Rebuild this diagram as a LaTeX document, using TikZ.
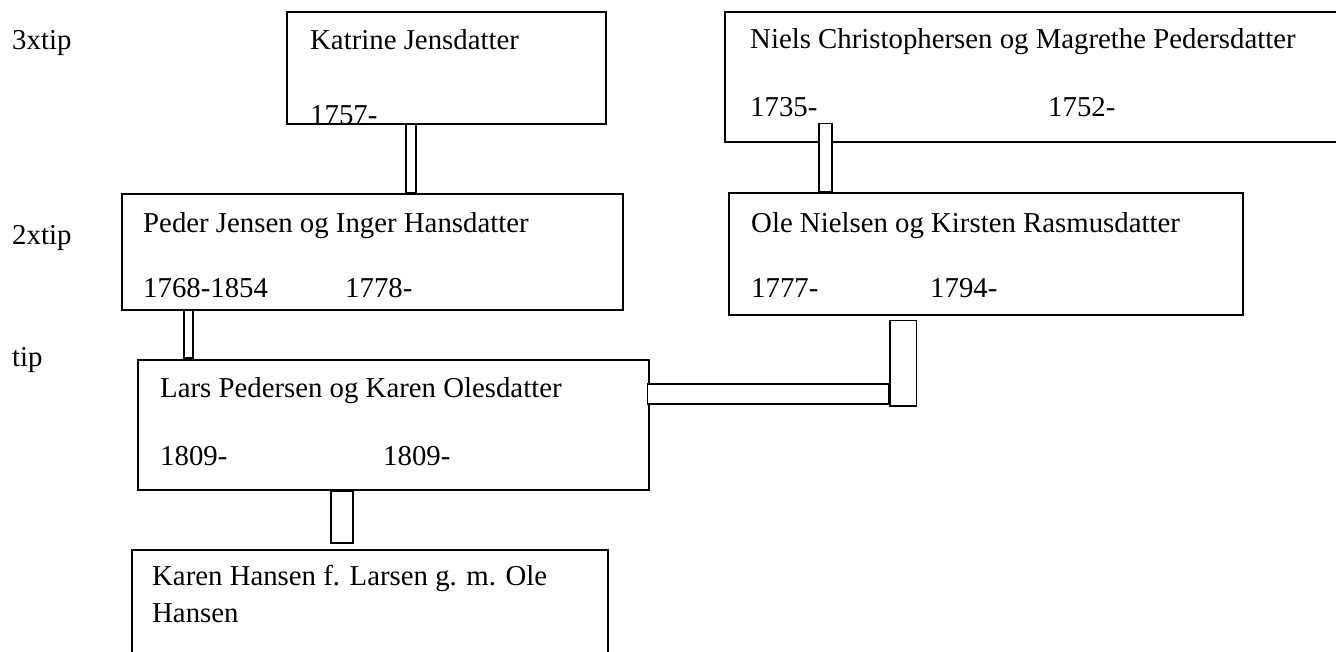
\documentclass[tikz,border=0pt]{standalone}
\usepackage{fontspec}
\setmainfont{Liberation Serif}
\usetikzlibrary{positioning, calc}

\begin{document}
\begin{tikzpicture}[
                x=1pt, y=-1pt,
                every node/.style={font=\fontsize{28.8}{34}\selectfont},
                person/.style={rectangle, draw, line width=1.6pt, anchor=north west, inner sep=0pt},
                txt/.style={anchor=base west, inner sep=0pt},
                link/.style={draw, line width=1.3pt, fill=white}
            ]
                \clip (0,0) rectangle (1336,651);

                % Generations
                \node[txt] (g3) at (12,49) {3xtip};
                \node[txt] (g2) at (12,244) {2xtip};
                \node[txt] (g1) at (12,366) {tip};

                % Persons
                \node[person, minimum width=319pt, minimum height=112pt] (katrine) at (286,11) {};
                \node[txt] (katrine-name) at ([shift={(24,38)}]katrine.north west) {Katrine Jensdatter};
                \node[txt] (katrine-born) at ([shift={(24,113)}]katrine.north west) {1757-};

                \node[person, minimum width=640pt, minimum height=130pt] (niels) at (724,11) {};
                \node[txt] (niels-name) at ([shift={(26,37)}]niels.north west) {Niels Christophersen og Magrethe Pedersdatter};
                \node[txt] (niels-born) at ([shift={(26,105)}]niels.north west) {1735-};
                \node[txt] (magrethe-born) at ([shift={(324,105)}]niels.north west) {1752-};

                \node[person, minimum width=501pt, minimum height=116pt] (peder) at (121,193) {};
                \node[txt] (peder-name) at ([shift={(22,39)}]peder.north west) {Peder Jensen og Inger Hansdatter};
                \node[txt] (peder-born) at ([shift={(22,104)}]peder.north west) {1768-1854};
                \node[txt] (inger-born) at ([shift={(224,104)}]peder.north west) {1778-};

                \node[person, minimum width=514pt, minimum height=122pt] (ole) at (728,192) {};
                \node[txt] (ole-name) at ([shift={(23,40)}]ole.north west) {Ole Nielsen og Kirsten Rasmusdatter};
                \node[txt] (ole-born) at ([shift={(23,105)}]ole.north west) {1777-};
                \node[txt] (kirsten-born) at ([shift={(202,105)}]ole.north west) {1794-};

                \node[person, minimum width=511pt, minimum height=130pt] (lars) at (137,359) {};
                \node[txt] (lars-name) at ([shift={(23,38)}]lars.north west) {Lars Pedersen og Karen Olesdatter};
                \node[txt] (lars-born) at ([shift={(23,106)}]lars.north west) {1809-};
                \node[txt] (karen-o-born) at ([shift={(246,106)}]lars.north west) {1809-};

                \node[person, minimum width=476pt, minimum height=130pt] (karen) at (131,549) {};
                \node[txt] (karen-name) at ([shift={(21,36)}]karen.north west) {Karen Hansen f. Larsen g. m. Ole};
                \node[txt] (karen-name2) at ([shift={(21,73)}]karen.north west) {Hansen};

                % Links
                \draw[link] ($(katrine.south west)+(120,0)$) rectangle ($(peder.north west)+(295,0)$);
                \draw[link] ($(niels.south west)+(95,-19)$) rectangle ($(ole.north west)+(104,0)$);
                \draw[link] ($(peder.south west)+(63,0)$) rectangle ($(lars.north west)+(56,-1)$);
                \draw[link] ($(ole.south west)+(162,5)$) rectangle ($(lars.north east)+(267,47)$);
                \draw[link] ($(lars.north east)+(-2,25)$) rectangle ($(lars.north east)+(239,45)$);
                \draw[link] ($(lars.south west)+(194,1)$) rectangle ($(karen.north west)+(222,-6)$);
            \end{tikzpicture}
\end{document}
